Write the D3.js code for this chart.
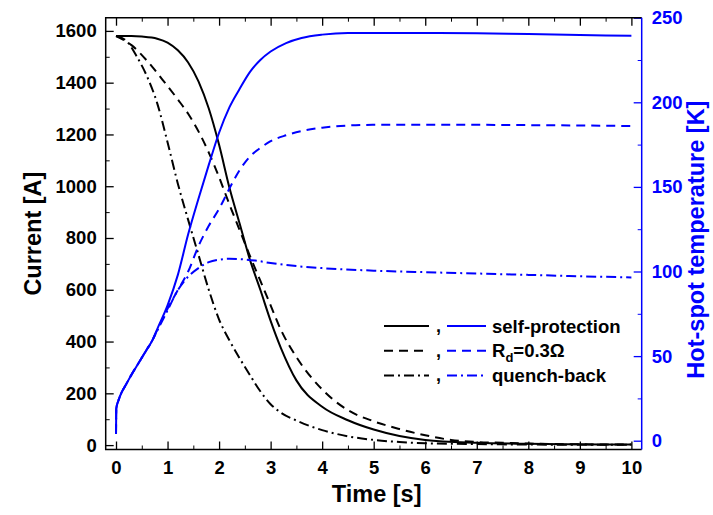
<!DOCTYPE html>
<html>
<head>
<meta charset="utf-8">
<script src="https://cdn.jsdelivr.net/npm/d3@7"></script>
<style>
  body { margin: 0; background: #fff; }
  svg { font-family: "Liberation Sans", Arial, sans-serif; font-weight: bold; }
</style>
</head>
<body>
<div id="chart"></div>
<script>
// current [A] vs time [s]
const selfCurrent = [[0,1580],[0.3,1580],[0.5,1578],[0.8,1570],[1.0,1555],[1.2,1525],[1.4,1478],[1.6,1405],[1.8,1300],[2.0,1160],[2.2,995],[2.4,855],[2.6,715],[2.8,600],[3.0,480],[3.2,375],[3.5,250],[4.0,148],[4.5,96],[5.0,60],[5.5,35],[6.0,20],[7.0,9],[8.0,5],[9.0,3],[10,2]];
const rdCurrent = [[0,1580],[0.3,1545],[0.6,1485],[0.9,1412],[1.2,1335],[1.4,1280],[1.6,1212],[1.8,1130],[2.0,1035],[2.2,930],[2.4,830],[2.6,730],[2.8,635],[3.0,540],[3.2,445],[3.5,340],[4.0,215],[4.5,135],[5.0,92],[5.5,62],[6.0,38],[6.5,20],[7.0,12],[7.5,9],[8,6],[9,3],[10,2]];
const qbCurrent = [[0,1580],[0.2,1562],[0.4,1502],[0.6,1425],[0.8,1320],[1.0,1170],[1.2,1010],[1.4,870],[1.6,735],[1.8,600],[2.0,485],[2.2,405],[2.4,335],[2.6,270],[2.8,208],[3.0,158],[3.2,125],[3.5,95],[4.0,58],[4.5,34],[5.0,20],[5.5,12],[6,7],[7,4],[8,2],[10,1]];

// hot-spot temperature [K] vs time [s]
const selfTemp = [[0,4],[0.005,19],[0.05,24],[0.1,28],[0.2,33.5],[0.3,39],[0.4,44],[0.5,49],[0.6,54],[0.7,59],[0.8,66],[1.0,80],[1.2,98],[1.4,122],[1.6,143],[1.8,163],[2.0,182],[2.2,197],[2.4,208],[2.6,218],[2.8,225],[3.0,230],[3.3,235],[3.6,238],[4.0,240],[4.5,241],[5,241],[6,241],[7,240.8],[8,240.3],[9,239.8],[10,239.3]];
const rdTemp = [[0,4],[0.005,19],[0.05,24],[0.1,28],[0.2,33.5],[0.3,39],[0.4,44],[0.5,49],[0.6,54],[0.7,59],[0.8,65.5],[1.0,78],[1.2,89],[1.4,100],[1.6,115],[1.8,127],[2.0,137],[2.2,149],[2.4,160],[2.6,168],[2.8,173],[3.0,177],[3.3,180.5],[3.6,183],[4.0,185],[4.5,186.3],[5,186.7],[6,186.8],[7,186.7],[8,186.5],[9,186.3],[10,186]];
const qbTemp = [[0,4],[0.005,19],[0.05,24],[0.1,28],[0.2,33.5],[0.3,39],[0.4,44],[0.5,49],[0.6,54],[0.7,59],[0.8,65],[1.0,77],[1.2,89],[1.4,97],[1.6,102],[1.8,105.5],[2.0,107],[2.2,107.5],[2.4,107.3],[2.7,106.5],[3.0,105],[3.5,103.2],[4.0,102],[5,100.5],[6,99.6],[7,98.8],[8,98],[9,97.2],[10,96.5]];

const legendLabels = ['self-protection', 'R_d=0.3Ω', 'quench-back'];
const dashes = [null, '9,6', '10,4,2,4'];

const width = 713, height = 515;
const padL = 105.7, padR = 641.7, padT = 17.7, padB = 449.5;

let svg = d3.select('#chart').append('svg')
            .attr('width', width)
            .attr('height', height);

let x = d3.scaleLinear().domain([-0.2, 10.2]).range([padL, padR]);
let yI = d3.scaleLinear().domain([-17, 1651]).range([padB, padT]);
let yT = d3.scaleLinear().domain([-5.2, 250]).range([padB, padT]);

// minor ticks first
function minor(axis, g, vals) {
    g.call(axis.tickValues(vals).tickSizeInner(-4).tickSizeOuter(0).tickFormat(''))
     .call(s => s.select('.domain').remove());
}
minor(d3.axisBottom(x), svg.append('g').attr('transform', `translate(0,${padB})`), d3.range(0.5, 10, 1));
minor(d3.axisTop(x), svg.append('g').attr('transform', `translate(0,${padT})`), d3.range(0.5, 10, 1));
minor(d3.axisLeft(yI), svg.append('g').attr('transform', `translate(${padL},0)`), d3.range(100, 1700, 200));
let rMinor = svg.append('g').attr('transform', `translate(${padR},0)`);
minor(d3.axisRight(yT), rMinor, d3.range(25, 250, 50));
rMinor.selectAll('line').attr('stroke', '#0000ff');

// major axes
let fmt = d3.format('d');
let xAxis = svg.append('g').attr('transform', `translate(0,${padB})`)
               .call(d3.axisBottom(x).tickValues(d3.range(0, 11, 1)).tickFormat(fmt).tickSizeInner(-8).tickSizeOuter(0).tickPadding(11));
let xTop = svg.append('g').attr('transform', `translate(0,${padT})`)
               .call(d3.axisTop(x).tickValues(d3.range(0, 11, 1)).tickSizeInner(-8).tickSizeOuter(0).tickFormat(''));
let yAxis = svg.append('g').attr('transform', `translate(${padL},0)`)
               .call(d3.axisLeft(yI).tickValues(d3.range(0, 1601, 200)).tickFormat(fmt).tickSizeInner(-8).tickSizeOuter(0).tickPadding(9));
let yRight = svg.append('g').attr('transform', `translate(${padR},0)`)
               .call(d3.axisRight(yT).tickValues(d3.range(0, 251, 50)).tickFormat(fmt).tickSizeInner(-8).tickSizeOuter(0).tickPadding(10));

[xAxis, xTop, yAxis, yRight].forEach(g => {
    g.select('.domain').remove();
    g.selectAll('line').attr('stroke-width', 1.3);
    g.selectAll('text').attr('font-size', 18.5).attr('font-weight', 'bold').attr('font-family', '"Liberation Sans", Arial, sans-serif').attr('fill', '#000');
});
yRight.selectAll('line').attr('stroke', '#0000ff');
yRight.selectAll('text').attr('fill', '#0000ff');

// frame
svg.append('path')
   .attr('d', `M${padR},${padT}H${padL}V${padB}H${padR}`)
   .attr('fill', 'none').attr('stroke', '#000').attr('stroke-width', 1.5);
svg.append('line')
   .attr('x1', padR).attr('x2', padR).attr('y1', padT).attr('y2', padB)
   .attr('stroke', '#0000ff').attr('stroke-width', 1.5);

// curves
let lineI = d3.line().x(d => x(d[0])).y(d => yI(d[1])).curve(d3.curveMonotoneX);
let lineT = d3.line().x(d => x(d[0])).y(d => yT(d[1])).curve(d3.curveMonotoneX);

let series = [
    {data: selfCurrent, line: lineI, color: '#000', dash: dashes[0]},
    {data: rdCurrent, line: lineI, color: '#000', dash: dashes[1]},
    {data: qbCurrent, line: lineI, color: '#000', dash: dashes[2]},
    {data: qbTemp, line: lineT, color: '#0000ff', dash: dashes[2]},
    {data: rdTemp, line: lineT, color: '#0000ff', dash: dashes[1]},
    {data: selfTemp, line: lineT, color: '#0000ff', dash: dashes[0]}
];

svg.append('g').selectAll('path.curve').data(series)
   .join('path')
   .attr('class', 'curve')
   .attr('d', d => d.line(d.data))
   .attr('fill', 'none')
   .attr('stroke', d => d.color)
   .attr('stroke-width', 2)
   .attr('stroke-dasharray', d => d.dash);

// legend
let legend = svg.append('g');
legendLabels.forEach((lab, i) => {
    let ly = 326 + i * 24.7;
    legend.append('line').attr('x1', 384).attr('x2', 429).attr('y1', ly).attr('y2', ly)
          .attr('stroke', '#000').attr('stroke-width', 2).attr('stroke-dasharray', dashes[i]);
    legend.append('text').attr('x', 436).attr('y', ly + 6).attr('font-size', 18).text(',');
    legend.append('line').attr('x1', 447).attr('x2', 486).attr('y1', ly).attr('y2', ly)
          .attr('stroke', '#0000ff').attr('stroke-width', 2).attr('stroke-dasharray', dashes[i]);
    let t = legend.append('text').attr('x', 492).attr('y', ly + 6.5).attr('font-size', 18.5);
    if (lab.includes('_')) {
        let parts = lab.split('_');
        t.append('tspan').text(parts[0]);
        t.append('tspan').attr('font-size', 13).attr('dy', 5).text(parts[1].charAt(0));
        t.append('tspan').attr('dy', -5).text(parts[1].slice(1));
    } else {
        t.text(lab);
    }
});

// axis titles
svg.append('text')
   .attr('x', (padL + padR) / 2 + 3).attr('y', 502)
   .attr('text-anchor', 'middle').attr('font-size', 23.5)
   .text('Time [s]');
svg.append('text')
   .attr('transform', `translate(41,${(padT + padB) / 2}) rotate(-90)`)
   .attr('text-anchor', 'middle').attr('font-size', 23.5)
   .text('Current [A]');
svg.append('text')
   .attr('transform', `translate(704,${(padT + padB) / 2 + 6}) rotate(-90)`)
   .attr('text-anchor', 'middle').attr('font-size', 23.5).attr('fill', '#0000ff')
   .text('Hot-spot temperature [K]');
</script>
</body>
</html>
